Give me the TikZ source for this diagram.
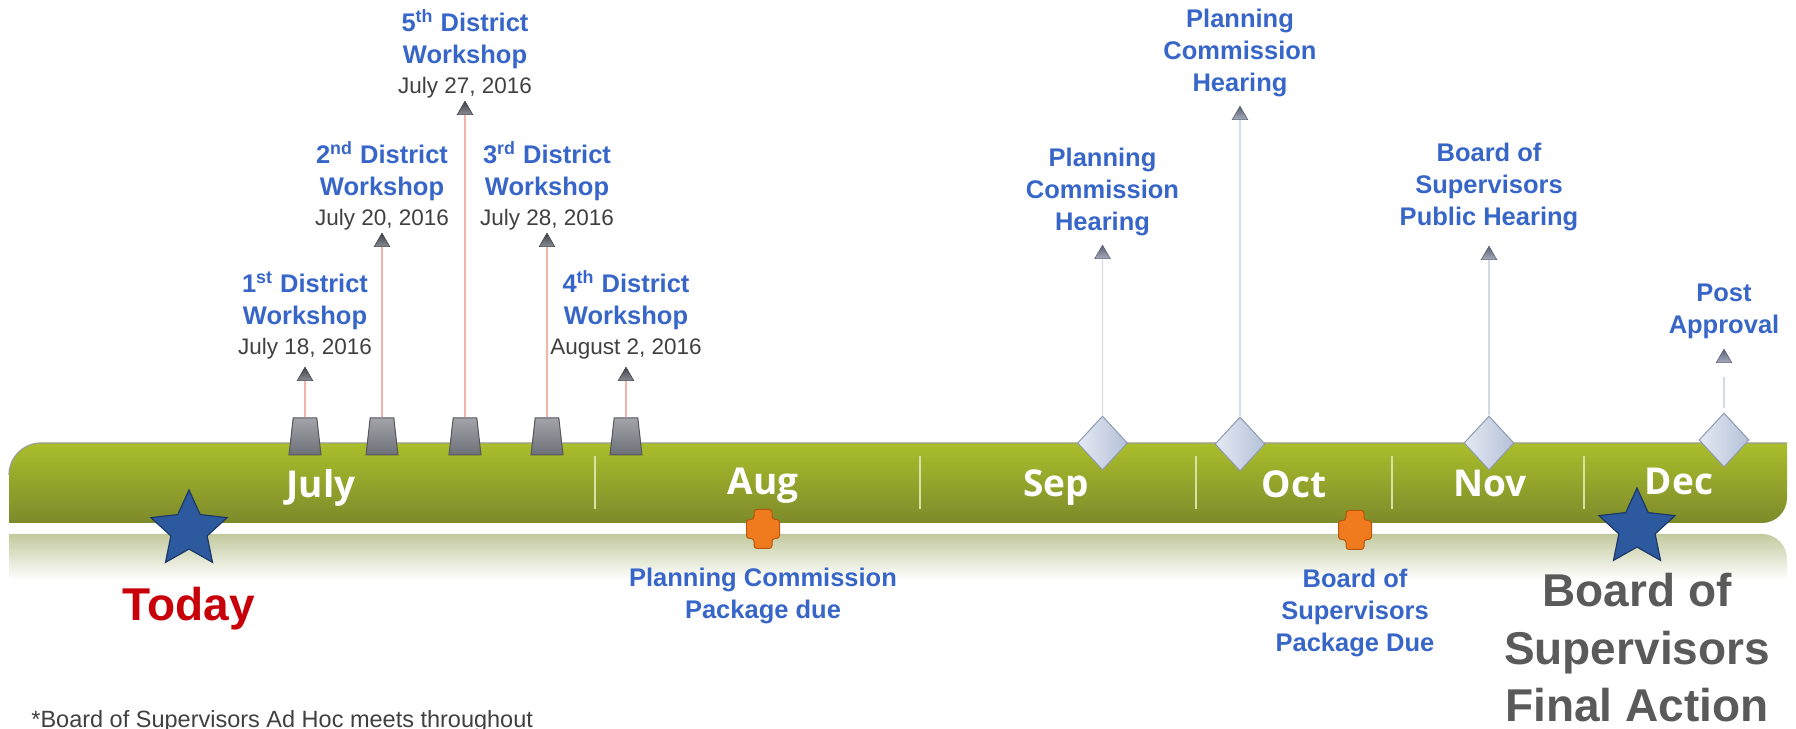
\documentclass[tikz,border=0pt]{standalone}
\usepackage{fontspec}
\setmainfont{Liberation Sans}
\newfontfamily\monthfont{Open Sans}
\usetikzlibrary{shapes.geometric, positioning}

\definecolor{barTop}{HTML}{ABBE2B}
\definecolor{barBot}{HTML}{7D8A2B}
\definecolor{barEdge}{HTML}{9C9E94}
\definecolor{reflTop}{HTML}{C3C99E}
\definecolor{lblBlue}{HTML}{3766C8}
\definecolor{dateGray}{HTML}{404040}
\definecolor{stemRed}{HTML}{F3B3AA}
\definecolor{stemBlue}{HTML}{D3DAE6}
\definecolor{trapTop}{HTML}{A2A4AA}
\definecolor{trapBot}{HTML}{6E7077}
\definecolor{trapEdge}{HTML}{55575D}
\definecolor{tipDark}{HTML}{3E4148}
\definecolor{tipLight}{HTML}{8A8D94}
\definecolor{hTipDark}{HTML}{5B6174}
\definecolor{hTipLight}{HTML}{A6ACBB}
\definecolor{diaLight}{HTML}{E4E9F3}
\definecolor{diaDark}{HTML}{B6C1D8}
\definecolor{diaEdge}{HTML}{8E9AB2}
\definecolor{starBlue}{HTML}{2D5A9E}
\definecolor{starEdge}{HTML}{1C3868}
\definecolor{plusOrange}{HTML}{F07A1E}
\definecolor{plusEdge}{HTML}{B8560E}
\definecolor{todayRed}{HTML}{C8000A}
\definecolor{finalGray}{HTML}{5A5A5A}

\newcommand{\wsdate}{\color{dateGray}\mdseries\fontsize{11.25}{15}\selectfont}

\begin{document}
\begin{tikzpicture}[x=0.5pt, y=0.5pt,
    month/.style = {font=\monthfont\bfseries\fontsize{18.5}{22}\selectfont, text=white, anchor=base, inner sep=0pt},
    wsmark/.style = {trapezium, trapezium angle=80, trapezium stretches=true, minimum width=16pt, minimum height=18.5pt, inner sep=1pt, top color=trapTop, bottom color=trapBot, draw=trapEdge, line width=0.5pt},
    wstip/.style = {regular polygon, regular polygon sides=3, minimum size=9pt, inner sep=0pt, anchor=south, top color=tipDark, bottom color=tipLight, draw=tipDark, line width=0.3pt},
    hmark/.style = {diamond, minimum width=25pt, minimum height=27pt, inner sep=0pt, left color=diaLight, right color=diaDark, draw=diaEdge, line width=0.5pt},
    htip/.style = {wstip, top color=hTipDark, bottom color=hTipLight, draw=hTipDark},
    wsstem/.style = {draw=stemRed, line width=0.8pt},
    hstem/.style = {draw=stemBlue, line width=0.8pt},
    lbl/.style = {align=center, text=lblBlue, font=\bfseries\fontsize{12.75}{16}\selectfont, inner sep=1pt},
    biglbl/.style = {align=center, font=\bfseries\fontsize{23}{28.75}\selectfont, inner sep=1pt},
    starmark/.style = {star, star points=5, star point ratio=2.1, minimum size=40pt, inner sep=0pt, fill=starBlue, draw=starEdge, line width=0.6pt},
    divider/.style = {draw=barTop!45!white, line width=0.6pt},
    plusmark/.pic = {\filldraw[fill=plusOrange, draw=plusEdge, line width=0.5pt, rounded corners=1.5pt]
        (-9,19.5) -- (9,19.5) -- (9,9.5) -- (16.5,9.5) -- (16.5,-9.5) -- (9,-9.5) -- (9,-19.5)
        -- (-9,-19.5) -- (-9,-9.5) -- (-16.5,-9.5) -- (-16.5,9.5) -- (-9,9.5) -- cycle;}
]
    \useasboundingbox (0,0) rectangle (1796,729);

    \shade[top color=barTop, bottom color=barBot] (9,206) -- (9,254) arc[start angle=180, end angle=90, radius=32] -- (1787,286) -- (1787,231) arc[start angle=0, end angle=-90, radius=25] -- cycle;
    \draw[barEdge, line width=0.6pt] (9,254) arc[start angle=180, end angle=90, radius=32] -- (1787,286);
    \shade[top color=reflTop, bottom color=white] (9,195) -- (1762,195) arc[start angle=90, end angle=0, radius=25] -- (1787,149) -- (9,149) -- cycle;

    \draw[divider] (595,220) -- (595,273);
    \draw[divider] (920,220) -- (920,273);
    \draw[divider] (1196,220) -- (1196,273);
    \draw[divider] (1392,220) -- (1392,273);
    \draw[divider] (1584,220) -- (1584,273);

    \node[month] (jul) at (321,231) {July};
    \node[month] (aug) at (763,234) {Aug};
    \node[month] (sep) at (1056,232) {Sep};
    \node[month] (oct) at (1294,231) {Oct};
    \node[month] (nov) at (1490,232) {Nov};
    \node[month] (dec) at (1679,234) {Dec};

    \node[wsmark] (w1) at (305,292.5) {};
    \node[wsmark] (w2) at (382,292.5) {};
    \node[wsmark] (w5) at (465,292.5) {};
    \node[wsmark] (w3) at (547,292.5) {};
    \node[wsmark] (w4) at (626,292.5) {};
    \node[wstip] (t1) at (305,348) {};
    \node[wstip] (t2) at (382,482) {};
    \node[wstip] (t5) at (465,614) {};
    \node[wstip] (t3) at (547,482) {};
    \node[wstip] (t4) at (626,348) {};
    \draw[wsstem] (w1) -- (t1);
    \draw[wsstem] (w2) -- (t2);
    \draw[wsstem] (w5) -- (t5);
    \draw[wsstem] (w3) -- (t3);
    \draw[wsstem] (w4) -- (t4);
    \node[lbl] (l1) [above=2.5pt of t1] {1\textsuperscript{st} District\\Workshop\\[-1pt]{\wsdate July 18, 2016}};
    \node[lbl] (l2) [above=0pt of t2] {2\textsuperscript{nd} District\\Workshop\\[-1pt]{\wsdate July 20, 2016}};
    \node[lbl] (l5) [above=0pt of t5] {5\textsuperscript{th} District\\Workshop\\[-1pt]{\wsdate July 27, 2016}};
    \node[lbl] (l3) [above=0pt of t3] {3\textsuperscript{rd} District\\Workshop\\[-1pt]{\wsdate July 28, 2016}};
    \node[lbl] (l4) [above=2.5pt of t4] {4\textsuperscript{th} District\\Workshop\\[-1pt]{\wsdate August 2, 2016}};

    \node[hmark] (d1) at (1102.5,286) {};
    \node[hmark] (d2) at (1240,285) {};
    \node[hmark] (d3) at (1489,286) {};
    \node[hmark] (d4) at (1724,289) {};
    \node[htip] (p1) at (1102.5,470) {};
    \node[htip] (p2) at (1240,609) {};
    \node[htip] (p3) at (1489,469) {};
    \node[htip] (p4) at (1724,366) {};
    \draw[hstem] (d1) -- (p1);
    \draw[hstem] (d2) -- (p2);
    \draw[hstem] (d3) -- (p3);
    \draw[hstem, shorten <=2pt, shorten >=7pt] (d4) -- (p4);
    \node[lbl] (h1) [above=3.3pt of p1] {Planning\\Commission\\Hearing};
    \node[lbl] (h2) [above=3.3pt of p2] {Planning\\Commission\\Hearing};
    \node[lbl] (h3) [above=6.3pt of p3] {Board of\\Supervisors\\Public Hearing};
    \node[lbl] (h4) [above=3.8pt of p4] {Post\\Approval};

    \coordinate (pk1) at (763,200);
    \coordinate (pk2) at (1355,199);
    \pic at (pk1) {plusmark};
    \pic at (pk2) {plusmark};
    \node[lbl] (pk1l) [below=18.5pt of pk1] {Planning Commission\\Package due};
    \node[lbl] (pk2l) [below=18.5pt of pk2] {Board of\\Supervisors\\Package Due};

    \node[starmark] (now) at (189,199) {};
    \node[biglbl, text=todayRed] (nowl) [below=27.5pt of now.center] {Today};
    \node[starmark] (fin) at (1637,201) {};
    \node[biglbl, text=finalGray] (finl) [below=21.5pt of fin.center] {Board of\\Supervisors\\Final Action};

    \node[anchor=base west, inner sep=0pt, text=dateGray, font=\fontsize{11.75}{14}\selectfont] (adhoc) at (31,2) {*Board of Supervisors Ad Hoc meets throughout};
\end{tikzpicture}
\end{document}
